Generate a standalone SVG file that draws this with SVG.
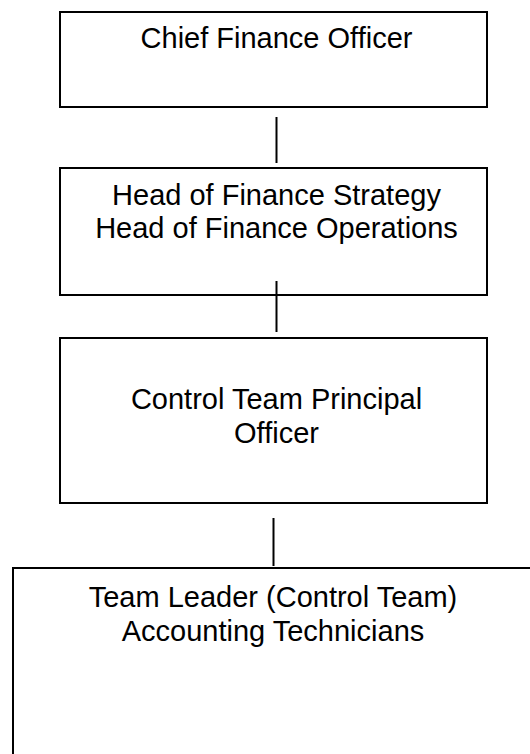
<svg xmlns="http://www.w3.org/2000/svg" width="530" height="754" viewBox="0 0 530 754">
<style>
.box{fill:#fff;stroke:#000;stroke-width:2}
.t{font-family:"Liberation Sans",Arial,sans-serif;font-size:29px;fill:#000;text-anchor:middle}
.c{stroke:#000;stroke-width:2;fill:none}
</style>
<rect width="530" height="754" fill="#fff"/>
<g id="n1">
<rect class="box" x="60" y="12" width="427" height="95"/>
<text class="t" x="276.5" y="48">Chief Finance Officer</text>
</g>
<g id="n2">
<rect class="box" x="60" y="168" width="427" height="127"/>
<text class="t" x="276.5" y="205">Head of Finance Strategy</text>
<text class="t" x="276.5" y="238">Head of Finance Operations</text>
</g>
<g id="n3">
<rect class="box" x="60" y="338" width="427" height="165"/>
<text class="t" x="276.5" y="409">Control Team Principal</text>
<text class="t" x="276.5" y="443">Officer</text>
</g>
<g id="n4">
<rect class="box" x="13" y="568" width="530" height="200"/>
<text class="t" x="273" y="607">Team Leader (Control Team)</text>
<text class="t" x="273" y="641">Accounting Technicians</text>
</g>
<g id="connectors">
<line class="c" x1="276.5" y1="117" x2="276.5" y2="163"/>
<line class="c" x1="276.5" y1="281" x2="276.5" y2="332"/>
<line class="c" x1="273.5" y1="518" x2="273.5" y2="566"/>
</g>
</svg>
